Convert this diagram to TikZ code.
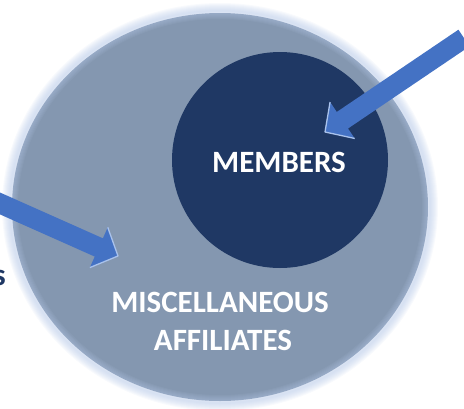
\documentclass[tikz,border=0pt]{standalone}
\usepackage{fontspec}
\setmainfont{Carlito}
\usetikzlibrary{calc}
\definecolor{bigfill}{HTML}{8497B0}
\definecolor{rim}{HTML}{B4C7E7}
\definecolor{navy}{HTML}{1F3864}
\definecolor{arrowblue}{HTML}{4472C4}
\definecolor{bevel}{HTML}{A9C2EC}
\tikzset{
  bigtext/.style={text=white, font=\fontsize{31}{38}\selectfont\bfseries, inner sep=0pt},
  sidetext/.style={text=navy, font=\fontsize{31}{38}\selectfont\bfseries, inner sep=0pt},
  shaftfill/.style={fill=arrowblue},
  headbevel/.style={draw=bevel, line width=1.3pt, line join=round},
}
\newcommand\blockarrow[2]{%
  \coordinate (hb) at ($(#2)!21pt!(#1)$);
  \fill[shaftfill] ($(#1)!10pt!90:(#2)$) -- ($(hb)!10pt!90:(#2)$) -- ($(hb)!22pt!90:(#2)$) -- (#2)
     -- ($(hb)!22pt!-90:(#2)$) -- ($(hb)!10pt!-90:(#2)$) -- ($(#1)!10pt!-90:(#2)$) -- cycle;
  \draw[headbevel] ($(hb)!22pt!90:(#2)$) -- (#2) -- ($(hb)!22pt!-90:(#2)$);
}
\begin{document}
\begin{tikzpicture}[x=1pt,y=-1pt]
\useasboundingbox (0,0) rectangle (464,408);
\begin{scope}
\clip (0,0) rectangle (464,408);
% large circle with soft rim
\fill[bigfill] (220,207) ellipse [x radius=208, y radius=194];
\foreach \k in {2,4,...,16} \draw[rim, opacity=0.09, line width=\k pt] (220,207) ellipse [x radius=210, y radius=196];
% inner circle
\fill[navy] (280,160) circle [radius=108];
% arrows
\coordinate (tailA) at (464,38);
\coordinate (tipA) at (325,132);
\coordinate (tailB) at (-10,199);
\coordinate (tipB) at (118,256);
\blockarrow{tailA}{tipA}
\blockarrow{tailB}{tipB}
\end{scope}
\node[bigtext, anchor=base] (members) at (279,172) {MEMBERS};
\node[bigtext, anchor=base] (misc) at (220,312) {MISCELLANEOUS};
\node[bigtext, anchor=base] (affil) at (223,350) {AFFILIATES};
\node[sidetext, anchor=base east] (side) at (6,285) {s};
\end{tikzpicture}
\end{document}
